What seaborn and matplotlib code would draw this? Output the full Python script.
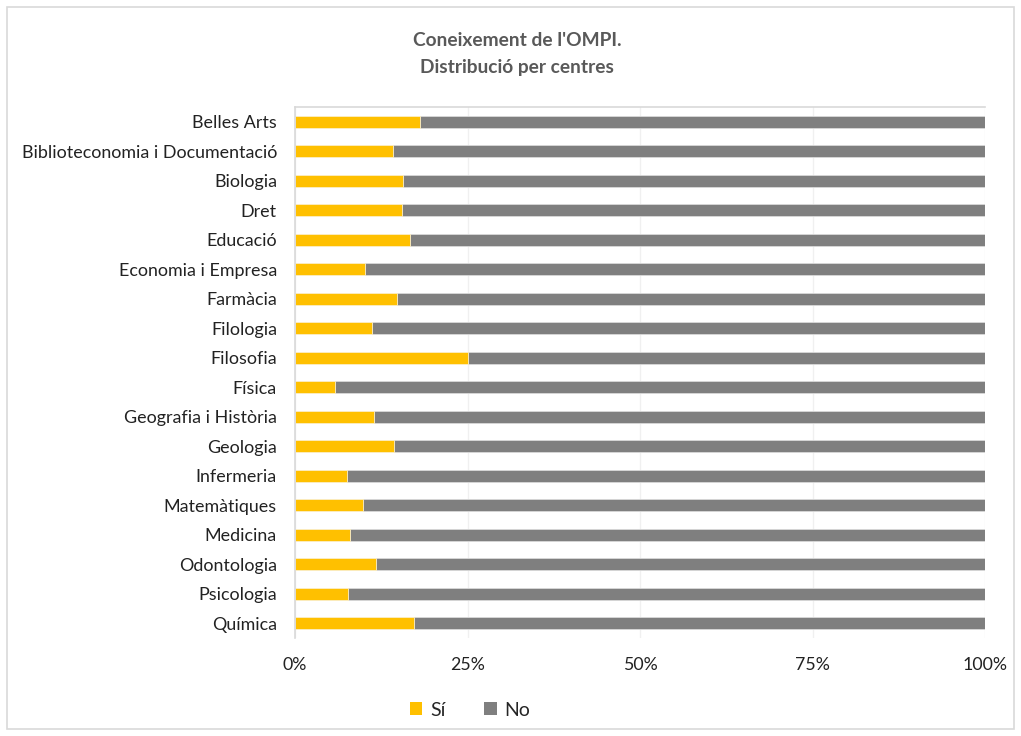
import matplotlib
matplotlib.use("Agg")
import matplotlib.pyplot as plt
import seaborn as sns
import pandas as pd
from matplotlib.patches import Rectangle, Patch
from matplotlib.ticker import FixedLocator, PercentFormatter

centres = ["Belles Arts", "Biblioteconomia i Documentació", "Biologia", "Dret",
           "Educació", "Economia i Empresa", "Farmàcia", "Filologia", "Filosofia",
           "Física", "Geografia i Història", "Geologia", "Infermeria",
           "Matemàtiques", "Medicina", "Odontologia", "Psicologia", "Química"]
si = [18.1, 14.2, 15.6, 15.5, 16.6, 10.1, 14.8, 11.2, 25.0,
      5.8, 11.4, 14.3, 7.5, 9.8, 7.9, 11.7, 7.7, 17.2]
no = [81.9, 85.8, 84.4, 84.5, 83.4, 89.9, 85.2, 88.8, 75.0,
      94.2, 88.6, 85.7, 92.5, 90.2, 92.1, 88.3, 92.3, 82.8]
xticks = [0, 25, 50, 75, 100]

df = pd.DataFrame({"centre": centres, "Sí": si, "No": no})
df["total"] = df["Sí"] + df["No"]

sns.set_theme(style="white")
plt.rcParams["font.family"] = ["Lato", "DejaVu Sans"]

fig = plt.figure(figsize=(10.21, 7.36), dpi=100)
ax = fig.add_axes([295/1021, 1 - 638/736, 690/1021, (638 - 107)/736])

YEL = "#FFC000"
GRY = "#7F7F7F"
sns.barplot(data=df, y="centre", x="total", color=GRY, width=0.39, ax=ax,
            saturation=1, edgecolor="#d9d9d9", linewidth=0.6, orient="h")
sns.barplot(data=df, y="centre", x="Sí", color=YEL, width=0.39, ax=ax,
            saturation=1, edgecolor="#fff2cc", linewidth=0.6, orient="h")

ax.set_xlim(0, 100)
ax.set_ylim(len(centres) - 0.5, -0.5)
ax.set_xticks(xticks)
ax.xaxis.set_major_formatter(PercentFormatter(decimals=0))
ax.set_xlabel("")
ax.set_ylabel("")
ax.grid(axis="x", color="#f0f0f0", linewidth=1)
ax.set_axisbelow(True)
ax.tick_params(axis="x", length=0, pad=14, labelsize=12.8, labelcolor="#222222")
ax.tick_params(axis="y", which="major", length=0, pad=13, labelsize=12.9, labelcolor="#222222")
ax.yaxis.set_minor_locator(FixedLocator([i - 0.5 for i in range(len(centres) + 1)]))
ax.tick_params(axis="y", which="minor", length=5, width=1.2, color="#d9d9d9", direction="out")
for s in ["right", "bottom"]:
    ax.spines[s].set_visible(False)
ax.spines["left"].set_color("#d9d9d9")
ax.spines["left"].set_linewidth(1.2)
ax.spines["top"].set_color("#d9d9d9")
ax.spines["top"].set_linewidth(1.2)

fig.text(517/1021, 1 - 40/736, "Coneixement de l'OMPI.", ha="center", va="center",
         fontsize=13.8, fontweight="bold", color="#595959")
fig.text(517/1021, 1 - 68/736, "Distribució per centres", ha="center", va="center",
         fontsize=13.8, fontweight="bold", color="#595959")

handles = [Patch(facecolor=YEL, edgecolor="none", label="Sí"),
           Patch(facecolor=GRY, edgecolor="none", label="No")]
fig.legend(handles=handles, loc="center", bbox_to_anchor=(470/1021, 1 - 710/736),
           ncol=2, frameon=False, fontsize=14, handlelength=0.65, handleheight=0.65,
           handletextpad=0.4, columnspacing=2.0)

fig.patches.append(Rectangle((7/1021, 7/736), 1007/1021, 722/736, transform=fig.transFigure,
                             fill=False, edgecolor="#d9d9d9", linewidth=1.2))

fig.savefig("out.png", dpi=100)
